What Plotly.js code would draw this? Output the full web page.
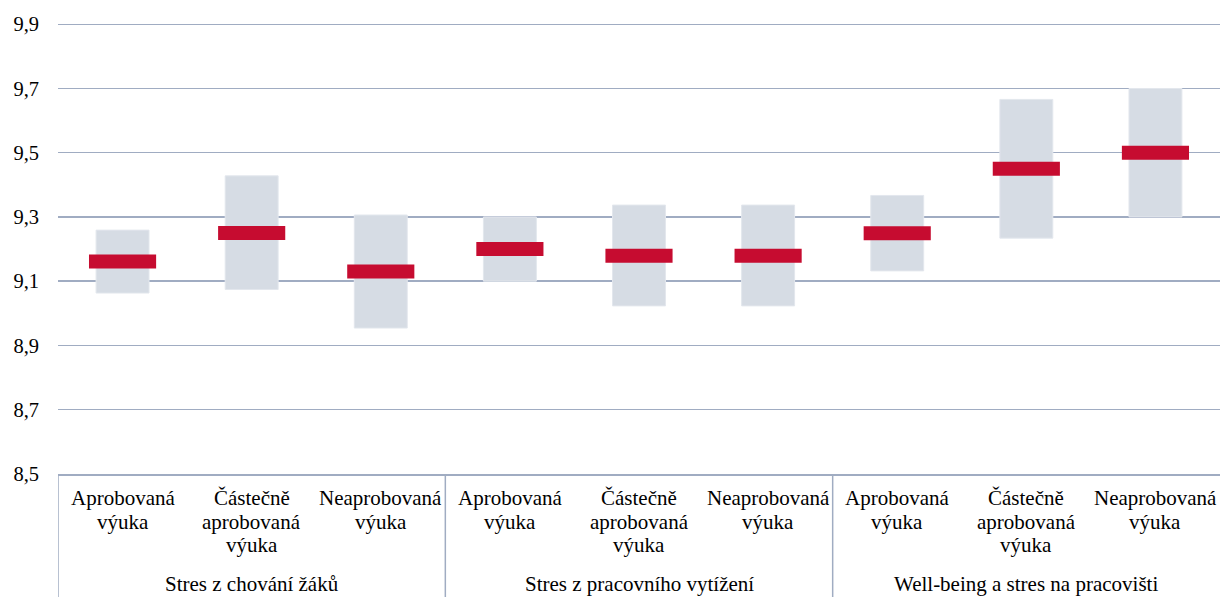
<!DOCTYPE html>
<html>
<head>
<meta charset="utf-8">
<script src="https://cdn.plot.ly/plotly-3.0.1.min.js"></script>
<style>html,body{margin:0;padding:0;background:#fff;}#chart{width:1220px;height:597px;}</style>
</head>
<body>
<div id="chart"></div>
<script>
// ---- data ----
var groups = ["Stres z chování žáků", "Stres z pracovního vytížení", "Well-being a stres na pracovišti"];
var subcategories = ["Aprobovaná\nvýuka", "Částečně\naprobovaná\nvýuka", "Neaprobovaná\nvýuka"];
var lowValues  = [9.063, 9.074, 8.954, 9.100, 9.023, 9.023, 9.132, 9.234, 9.300];
var highValues = [9.259, 9.428, 9.306, 9.300, 9.337, 9.337, 9.367, 9.666, 9.700];
var meanValues = [9.161, 9.250, 9.130, 9.200, 9.179, 9.179, 9.249, 9.450, 9.500];
var yTicks = [8.5, 8.7, 8.9, 9.1, 9.3, 9.5, 9.7, 9.9];

// ---- build ----
var nSub = subcategories.length;
var xs = [], labels = [];
groups.forEach(function (g, gi) {
  subcategories.forEach(function (s, si) { xs.push(gi * nSub + si); labels.push(s); });
});

var serif = "Liberation Serif, Times New Roman, serif";
var gridCol = "#a0acc2";
var halfThick = 0.0218;

var rangeTrace = {
  type: "bar", x: xs, base: lowValues,
  y: highValues.map(function (h, i) { return h - lowValues[i]; }),
  width: 0.41, marker: {color: "#d6dce4", line: {color: "#e3e7ed", width: 1}},
  hoverinfo: "skip", showlegend: false
};
var meanTrace = {
  type: "bar", x: xs,
  base: meanValues.map(function (m) { return m - halfThick; }),
  y: meanValues.map(function () { return 2 * halfThick; }),
  width: 0.52, marker: {color: "#c60c30"},
  showlegend: false
};

var annotations = [];
var lineCenters = [24, 47.7, 71.4]; // px below axis
xs.forEach(function (x, i) {
  labels[i].split("\n").forEach(function (line, li) {
    annotations.push({x: x, xref: "x", y: 0, yref: "paper", yanchor: "middle", xanchor: "center",
      yshift: -lineCenters[li], text: line, showarrow: false, font: {family: serif, size: 21, color: "#000"}});
  });
});
var shapes = [];
groups.forEach(function (g, gi) {
  var center = gi * nSub + (nSub - 1) / 2;
  annotations.push({x: center, xref: "x", y: 0, yref: "paper", yanchor: "middle", xanchor: "center",
    yshift: -110, text: g, showarrow: false, font: {family: serif, size: 21, color: "#000"}});
  shapes.push({type: "line", xref: "x", yref: "paper", x0: gi * nSub - 0.5, x1: gi * nSub - 0.5,
    y0: 0, y1: -0.3, line: {color: gridCol, width: 1.5}});
});

var layout = {
  width: 1220, height: 597,
  margin: {l: 58, r: 0, t: 23, b: 123},
  paper_bgcolor: "#fff", plot_bgcolor: "#fff",
  barmode: "overlay",
  separators: ",.",
  showlegend: false,
  xaxis: {range: [-0.5, 8.5], showticklabels: false, showgrid: false, zeroline: false,
    showline: true, linecolor: gridCol, linewidth: 1.5, fixedrange: true},
  yaxis: {range: [8.4995, 9.904], tickmode: "array", tickvals: yTicks,
    ticktext: yTicks.map(function (v) { return v.toFixed(1).replace(".", ","); }),
    showgrid: true, gridcolor: gridCol, gridwidth: 1.5, zeroline: false, showline: false,
    ticks: "", ticklabelstandoff: 18,
    tickfont: {family: serif, size: 20.5, color: "#000"}, fixedrange: true},
  annotations: annotations,
  shapes: shapes
};

Plotly.newPlot("chart", [rangeTrace, meanTrace], layout, {displayModeBar: false, staticPlot: true});
</script>
</body>
</html>
